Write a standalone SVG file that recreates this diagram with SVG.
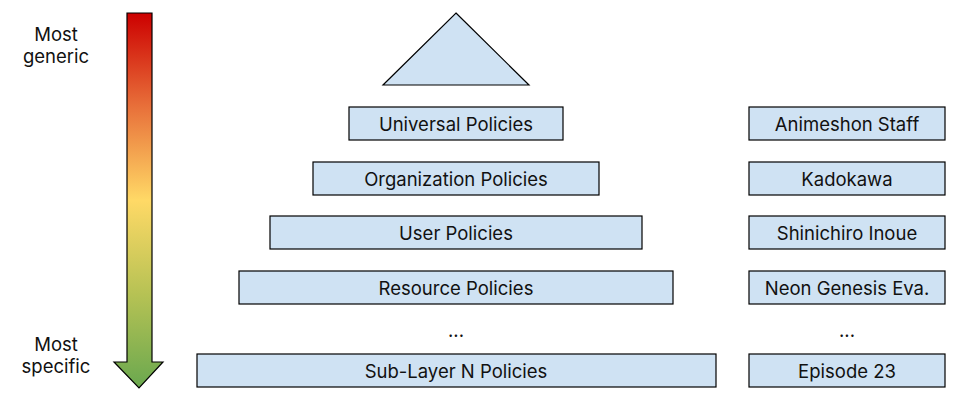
<svg xmlns="http://www.w3.org/2000/svg" width="966" height="411" viewBox="0 0 966 411">
<style>
.box{fill:#cfe2f3;stroke:#000;stroke-width:1.2}
.t{font-family:Inter,"Liberation Sans",sans-serif;font-size:18.5px;fill:#111;text-anchor:middle;dominant-baseline:central}
</style>
<defs>
<linearGradient id="g" x1="0" y1="0" x2="0" y2="1">
<stop offset="0" stop-color="#cc0000"/>
<stop offset="0.25" stop-color="#e8703a"/>
<stop offset="0.5" stop-color="#ffd966"/>
<stop offset="0.75" stop-color="#b6c254"/>
<stop offset="1" stop-color="#6aa84f"/>
</linearGradient>
</defs>
<rect width="966" height="411" fill="#fff"/>
<g id="scale">
<path d="M127,13 H152 V362 H163 L139,388 L114,362 H127 Z" fill="url(#g)" stroke="#000" stroke-width="1.2"/>
<text class="t" x="56" y="34">Most</text>
<text class="t" x="56" y="56">generic</text>
<text class="t" x="56" y="344">Most</text>
<text class="t" x="56" y="366">specific</text>
</g>
<g id="apex"><polygon class="box" points="456,13 529,85 383,85"/></g>
<g id="universal"><rect class="box" x="349" y="107" width="214" height="33"/><text class="t" x="456" y="124">Universal Policies</text></g>
<g id="organization"><rect class="box" x="313" y="162" width="286" height="33"/><text class="t" x="456" y="179">Organization Policies</text></g>
<g id="user"><rect class="box" x="270" y="216" width="372" height="33"/><text class="t" x="456" y="233">User Policies</text></g>
<g id="resource"><rect class="box" x="239" y="271" width="434" height="33"/><text class="t" x="456" y="288">Resource Policies</text></g>
<g id="dots1"><text class="t" x="456" y="330">...</text></g>
<g id="sublayer"><rect class="box" x="197" y="354" width="519" height="33"/><text class="t" x="456" y="371">Sub-Layer N Policies</text></g>
<g id="staff"><rect class="box" x="749" y="107" width="196" height="33"/><text class="t" x="847" y="124">Animeshon Staff</text></g>
<g id="kadokawa"><rect class="box" x="749" y="162" width="196" height="33"/><text class="t" x="847" y="179">Kadokawa</text></g>
<g id="inoue"><rect class="box" x="749" y="216" width="196" height="33"/><text class="t" x="847" y="233">Shinichiro Inoue</text></g>
<g id="eva"><rect class="box" x="749" y="271" width="196" height="33"/><text class="t" x="847" y="288">Neon Genesis Eva.</text></g>
<g id="dots2"><text class="t" x="847" y="330">...</text></g>
<g id="episode"><rect class="box" x="749" y="354" width="196" height="33"/><text class="t" x="847" y="371">Episode 23</text></g>
<g id="connectors"></g>
</svg>
